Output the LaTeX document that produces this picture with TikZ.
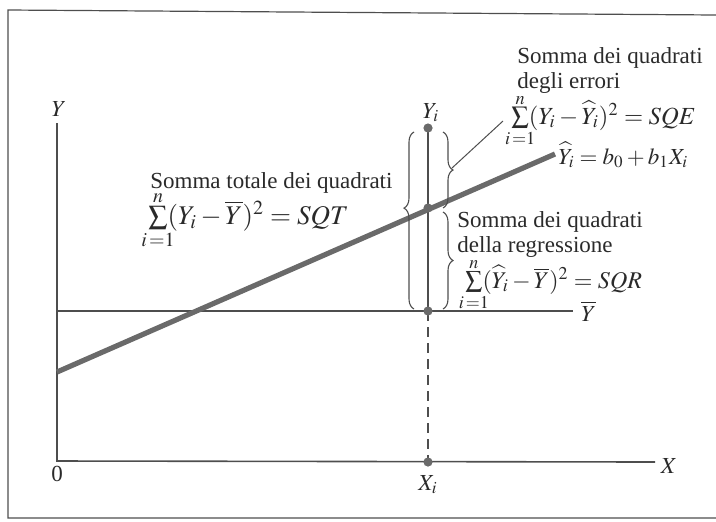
\documentclass[tikz,border=0pt]{standalone}
\usepackage{mathptmx}
\usepackage{fontspec}
\setmainfont{Liberation Serif}
\usepackage{tikz}
\usetikzlibrary{decorations.pathreplacing, positioning}
\definecolor{ink}{HTML}{2A2A2A}
\definecolor{ink2}{HTML}{4E4E4E}
\definecolor{cline}{HTML}{6A6A6A}
% sum from i=1 to n, limits tight as in the book
\newcommand{\sumin}{\mathop{\sum}\limits_{\makebox[0pt]{$\scriptstyle i\,=1$}}^{\smash{\lower1pt\hbox{$\scriptstyle n$}}}}

\begin{document}
\begin{tikzpicture}[x=0.5pt, y=-0.5pt, font=\fontsize{11.5}{14}\selectfont,
    txt/.style={anchor=base west, inner sep=0pt, text=ink},
    lbl/.style={anchor=base, inner sep=0pt, text=ink},
    frm/.style={txt, font=\fontsize{#1}{16}\selectfont},
    bracket/.style={ink2, line width=0.55pt, decorate, decoration={brace, amplitude=5pt, #1}}]
    \useasboundingbox (0,0) rectangle (716,521);
    % frame of the scan
    \draw[ink2, line width=0.6pt] (716,15) -- (8,10) -- (8,518) -- (716,518);
    % axes
    \coordinate (O) at (57,461);
    \coordinate (ytop) at (57,123);
    \coordinate (xend) at (655,462);
    \draw[ink2, line width=0.8pt] (ytop) -- (O) -- (xend);
    \node[lbl] (ylab) at (59,116) {$Y$};
    \node[lbl] (xlab) at (669,473) {$X$};
    \node[lbl] (zero) at (57,481) {0};
    % mean of Y
    \coordinate (ybar0) at (57,311);
    \coordinate (ybar1) at (573,311);
    \draw[ink2, line width=0.8pt] (ybar0) -- (ybar1);
    \node[txt] (ybarlab) at (581,321) {$\overline{Y}$};
    % fitted line
    \coordinate (r0) at (57,372);
    \coordinate (r1) at (555,154);
    \draw[cline, line width=2.6pt] (r0) -- (r1);
    \node[txt] (fitlab) at (558,164) {$\widehat{Y}_i = b_0 + b_1X_i$};
    % the observation at X_i
    \coordinate (yi) at (428,128);
    \coordinate (yhat) at (428,208);
    \coordinate (ym) at (428,311);
    \coordinate (xi) at (428,462);
    \draw[ink2, line width=1.3pt] (yi) -- (ym);
    \draw[ink2, line width=1.1pt, dash pattern=on 5pt off 3pt] (ym) -- (xi);
    \foreach \p in {yi, yhat, ym, xi}
      \fill[cline] (\p) circle (2.3pt);
    \node[lbl] (yilab) at (431,118) {$Y_i$};
    \node[lbl] (xilab) at (428,490) {$X_i$};
    % braces
    \draw[bracket={aspect=0.57}] (414,309) -- (414,132);
    \draw[bracket={}] (443,132) -- (443,208);
    \draw[bracket={}] (443,212) -- (443,309);
    % error sum of squares
    \node[txt] (sqe1) at (517,63) {Somma dei quadrati};
    \node[txt] (sqe2) at (517,88) {degli errori};
    \node[frm=12.3] (sqeform) at (511,124) {$\sumin(Y_i - \widehat{Y}_i)^2 = SQE$};
    \coordinate (sqetip) at (452,168);
    \coordinate (sqeend) at (503,121);
    \draw[ink2, line width=0.5pt] (sqetip) -- (sqeend);
    % total sum of squares
    \node[txt] (sqt1) at (150,188) {Somma totale dei quadrati};
    \node[frm=13.5] (sqtform) at (148,224) {$\sumin(Y_i - \overline{Y})^2 = SQT$};
    % regression sum of squares
    \node[txt] (sqr1) at (457,227) {Somma dei quadrati};
    \node[txt] (sqr2) at (457,252) {della regressione};
    \node[frm=12] (sqrform) at (465,288) {$\sumin(\widehat{Y}_i - \overline{Y})^2 = SQR$};
\end{tikzpicture}
\end{document}
